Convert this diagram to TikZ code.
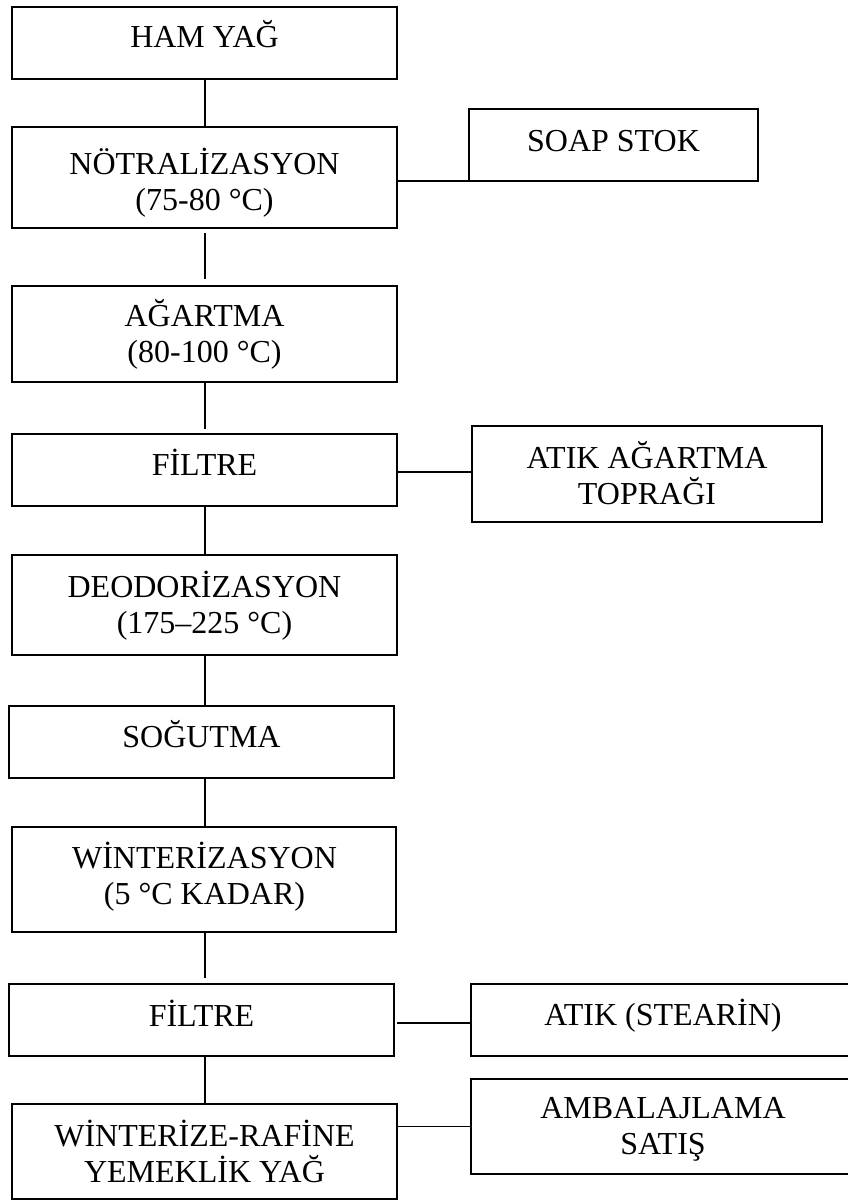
\documentclass[tikz,border=0pt]{standalone}
\usepackage{fontspec}
\setmainfont{Liberation Serif}
\usetikzlibrary{fit}
\newcommand\twoline[2]{\vtop{\halign{\hfil##\hfil\cr#1\cr#2\cr}}}
\begin{document}
\begin{tikzpicture}[x=0.75pt,y=-0.75pt,
  box/.style={draw=black,line width=1.2pt,inner sep=0pt,rectangle},
  lbl/.style={inner sep=0pt,anchor=base,font=\fontsize{24}{27}\selectfont},
  conn/.style={draw=black,line width=1.2pt}]
\useasboundingbox (0,0) rectangle (848,1201);
\clip (0,0) rectangle (848,1201);
\fill[white] (0,0) rectangle (848,1201);
\coordinate (sp) at (205,0);
% main column boxes
\node[box,fit={(12,7)(397,79)}] (b1) {};
\node[box,fit={(12,127)(397,228)}] (b2) {};
\node[box,fit={(12,286)(397,382)}] (b3) {};
\node[box,fit={(12,434)(397,506)}] (b4) {};
\node[box,fit={(12,555)(397,655)}] (b5) {};
\node[box,fit={(9,706)(394,778)}] (b6) {};
\node[box,fit={(12,827)(396,932)}] (b7) {};
\node[box,fit={(9,984)(394,1056)}] (b8) {};
\node[box,fit={(12,1104)(397,1199)}] (b9) {};
% side boxes
\node[box,fit={(469,109)(758,181)}] (s1) {};
\node[box,fit={(472,426)(822,522)}] (s2) {};
\node[box,fit={(471,984)(855,1056)}] (s3) {};
\node[box,fit={(471,1079)(855,1174)}] (s4) {};
% labels
\node[lbl] (t1) at (204.5,48) {HAM YAĞ};
\node[lbl] (t2) at (204.5,175) {\twoline{NÖTRALİZASYON}{(75-80 °C)}};
\node[lbl] (t3) at (204.5,327) {\twoline{AĞARTMA}{(80-100 °C)}};
\node[lbl] (t4) at (204.5,475) {FİLTRE};
\node[lbl] (t5) at (204.5,597) {\twoline{DEODORİZASYON}{(175–225 °C)}};
\node[lbl] (t6) at (201.5,747) {SOĞUTMA};
\node[lbl] (t7) at (204.5,868) {\twoline{WİNTERİZASYON}{(5 °C KADAR)}};
\node[lbl] (t8) at (201.5,1026) {FİLTRE};
\node[lbl] (t9) at (204.5,1146) {\twoline{WİNTERİZE-RAFİNE}{YEMEKLİK YAĞ}};
\node[lbl] (u1) at (613.5,152) {SOAP STOK};
\node[lbl] (u2) at (647,468) {\twoline{ATIK AĞARTMA}{TOPRAĞI}};
\node[lbl] (u3) at (663,1025) {ATIK (STEARİN)};
\node[lbl] (u4) at (663,1118) {\twoline{AMBALAJLAMA}{SATIŞ}};
% vertical connectors
\draw[conn] (b1.south -| sp) -- (b2.north -| sp);
\draw[conn,shorten <=3pt,shorten >=5pt] (b2.south -| sp) -- (b3.north -| sp);
\draw[conn,shorten >=3pt] (b3.south -| sp) -- (b4.north -| sp);
\draw[conn] (b4.south -| sp) -- (b5.north -| sp);
\draw[conn] (b5.south -| sp) -- (b6.north -| sp);
\draw[conn] (b6.south -| sp) -- (b7.north -| sp);
\draw[conn,shorten >=4pt] (b7.south -| sp) -- (b8.north -| sp);
\draw[conn] (b8.south -| sp) -- (b9.north -| sp);
% horizontal connectors
\draw[conn] ([yshift=0.75pt]s1.south west -| b2.east) -- ([yshift=0.75pt]s1.south west);
\draw[conn] ([yshift=1.5pt]s2.west -| b4.east) -- ([yshift=1.5pt]s2.west);
\draw[conn,shorten <=2pt] ([yshift=-2.25pt]s3.west -| b8.east) -- ([yshift=-2.25pt]s3.west);
\draw[conn] (s4.west -| b9.east) -- (s4.west);
\end{tikzpicture}
\end{document}
